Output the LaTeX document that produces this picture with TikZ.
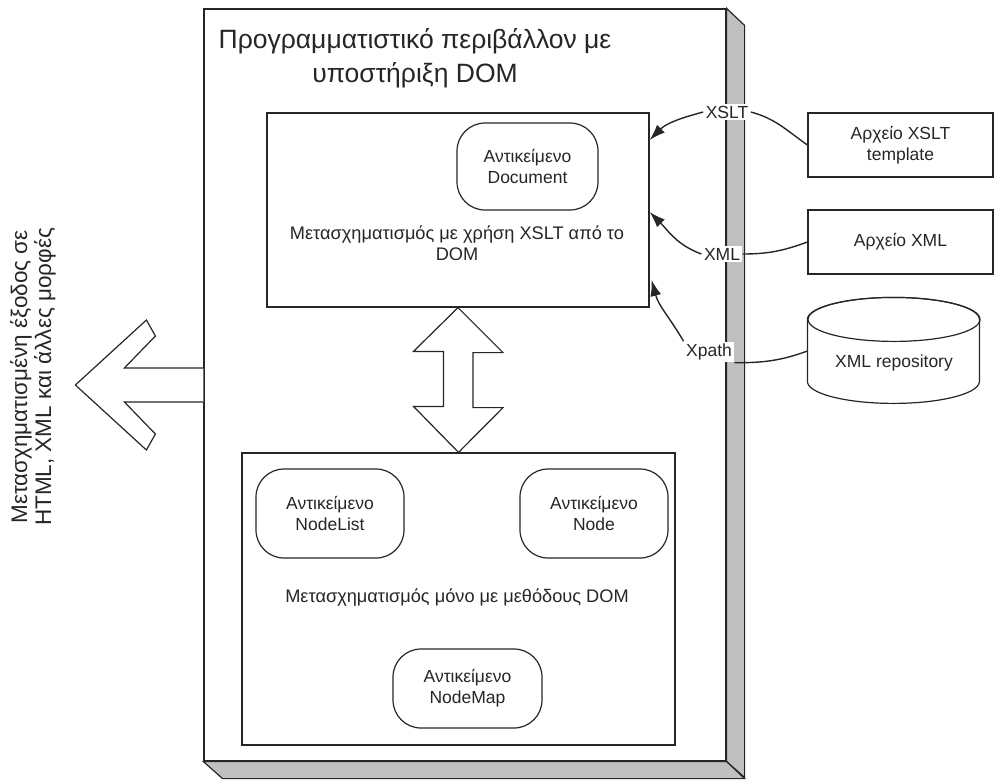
\documentclass[tikz,border=0pt]{standalone}
\usepackage{fontspec}
\setmainfont{Liberation Sans}
\usetikzlibrary{arrows.meta}
\definecolor{ink}{HTML}{262626}
\definecolor{side}{HTML}{C0C0C0}
\begin{document}
\begin{tikzpicture}[x=1pt,y=1pt,line width=1.2pt,color=ink,
  lbl/.style={font=\fontsize{17.5}{21}\selectfont, align=center, text=ink},
  desc/.style={font=\fontsize{18.2}{21.5}\selectfont, align=center, text=ink},
  box/.style={draw, fill=white, inner sep=0pt},
  obj/.style={draw, fill=white, rounded corners=28pt, lbl, inner sep=0pt,
              minimum width=148pt, minimum height=89pt},
  conn/.style={line width=1.4pt},
  tip/.style={-{Latex[length=16pt,width=11pt]}},
  arrlbl/.style={lbl, fill=white, inner sep=2pt}]
\useasboundingbox (0,0) rectangle (995,-780);
% environment (3D box)
\node[box, minimum width=522pt, minimum height=752pt] (env) at (465,-385) {};
\filldraw[fill=side] (env.north east) -- ++(18,-17) -- ++(0,-752) -- (env.south east) -- cycle;
\filldraw[fill=side] (env.south west) -- (env.south east) -- ++(18,-17) -- ++(-522,0) -- cycle;
\node[font=\fontsize{26.5}{34}\selectfont, align=center] (title) at (415,-58)
  {Προγραμματιστικό περιβάλλον με\\υποστήριξη DOM};
% upper box
\node[box, minimum width=382pt, minimum height=194pt] (xsltbox) at (458,-210) {};
\node[desc] (xslttxt) at (457,-243) {Μετασχηματισμός με χρήση XSLT από το\\DOM};
\node[obj, minimum width=141pt, minimum height=87pt] (doc) at (527.5,-166.5) {Αντικείμενο\\Document};
% lower box
\node[box, minimum width=433pt, minimum height=292pt] (dombox) at (458.5,-599) {};
\node[obj] (nlist) at (330,-513.5) {Αντικείμενο\\NodeList};
\node[obj] (node) at (594,-513.5) {Αντικείμενο\\Node};
\node[obj, minimum width=149pt, minimum height=79pt] (nmap) at (467.5,-688.5) {Αντικείμενο\\NodeMap};
\node[desc] (domtxt) at (457,-598) {Μετασχηματισμός μόνο με μεθόδους DOM};
% double arrow
\draw[fill=white] (xsltbox.south) -- ++(45,-45) -- ++(-30,0) -- ++(0,-55) -- ++(30,0)
  -- (dombox.north) -- ++(-45,46) -- ++(30,0) -- ++(0,55) -- ++(-30,0) -- cycle;
% output arrow
\draw[fill=white,shift={(env.west)}] (0,17) -- (-79,17) -- (-48,49) -- (-57,65) -- (-128,0)
  -- (-57,-65) -- (-48,-49) -- (-79,-17) -- (0,-17);
\node[lbl, rotate=90, font=\fontsize{22.5}{24}\selectfont] (outtxt) at (33,-377)
  {Μετασχηματισμένη έξοδος σε\\HTML, XML και άλλες μορφές};
% sources
\node[box, lbl, minimum width=185pt, minimum height=64pt] (tmpl) at (900.5,-145) {Αρχείο XSLT\\template};
\node[box, lbl, minimum width=185pt, minimum height=64pt] (xmlf) at (900.5,-242) {Αρχείο XML};
\node[lbl, minimum width=172pt, minimum height=106pt, inner sep=0pt] (repo) at (894,-351) {};
\filldraw[fill=white] (repo.north west) ++(0,-22) -- ++(0,-62)
  arc[start angle=180, end angle=360, x radius=86, y radius=22] -- ++(0,62)
  arc[start angle=0, end angle=180, x radius=86, y radius=22] -- cycle;
\draw (repo.north) ++(0,-22) ellipse[x radius=86, y radius=22];
\node[lbl] at (894,-363) {XML repository};
% labels
\node[arrlbl] (lx) at (727,-112) {XSLT};
\node[arrlbl] (lxml) at (722,-254) {XML};
\node[arrlbl] (lxp) at (709,-352) {Xpath};
% connectors
\draw[conn] (tmpl.west) to[out=145,in=-15] (lx.east);
\draw[conn,tip] (lx.west) to[out=195,in=45] ([yshift=70pt]xsltbox.east);
\draw[conn] (xmlf.west) to[out=200,in=0] (lxml.east);
\draw[conn,tip] (lxml.west) to[out=160,in=-45] ([yshift=-2pt]xsltbox.east);
\draw[conn] (repo.west) to[out=200,in=0] (lxp.south east);
\draw[conn,tip] (lxp.north west) to[out=120,in=-75] ([xshift=2pt,yshift=-70pt]xsltbox.east);
\end{tikzpicture}
\end{document}
